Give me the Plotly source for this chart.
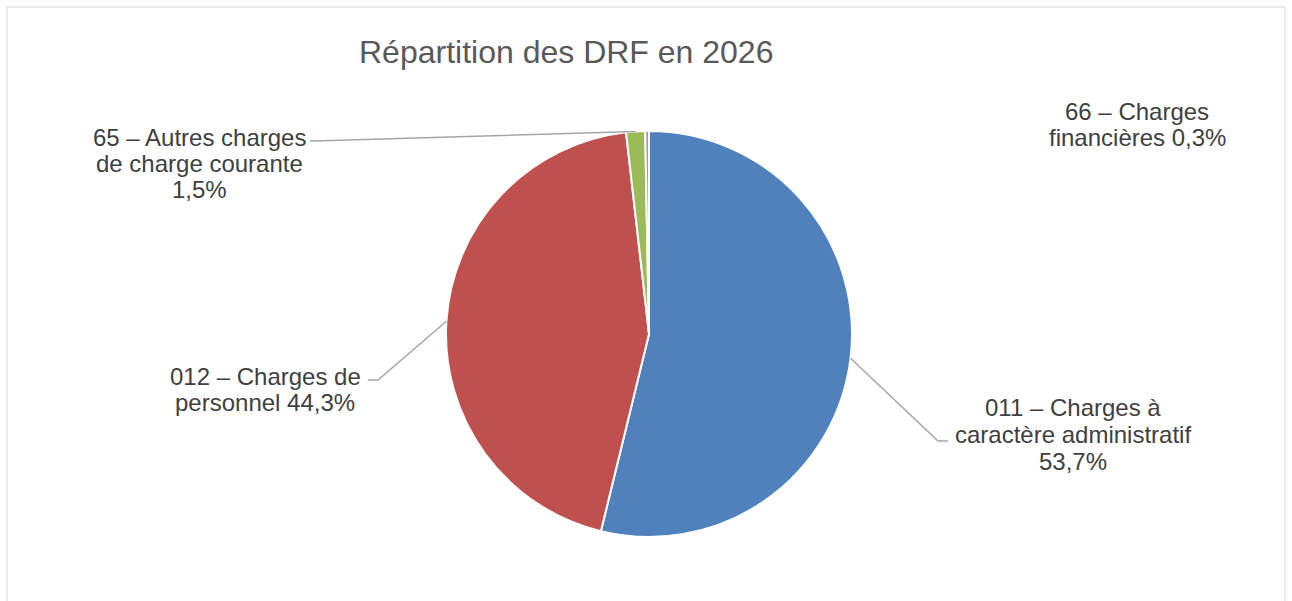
import math
import plotly.graph_objects as go

# Data
categories = ["011 – Charges à caractère administratif", "012 – Charges de personnel",
              "65 – Autres charges de charge courante", "66 – Charges financières"]
values = [53.7, 44.3, 1.5, 0.3]
label_lines = [["011 – Charges à", "caractère administratif", "53,7%"],
               ["012 – Charges de", "personnel 44,3%"],
               ["65 – Autres charges", "de charge courante", "1,5%"],
               ["66 – Charges", "financières 0,3%"]]
colors = ["#4F81BD", "#C0504D", "#9BBB59", "#A593C4"]
title = "Répartition des DRF en 2026"

W, H = 1292, 601
cx, cy, R = 649, 334, 203  # pie centre/radius in pixels
LINE_H = 26.5


def px2paper(x, y):
    return x / W, 1 - y / H


# label positions (centre x, first-line y), with elbow points for leader lines
label_pos = [(1073, 408), (265, 376), (199, 137), (1137, 111)]
elbows = [((938, 441), (948, 441)), ((378, 380), (368, 380)), ((314, 141), (310, 141)), None]

fig = go.Figure()
fig.add_trace(go.Pie(
    labels=categories, values=values, sort=False, direction="clockwise", rotation=0,
    marker=dict(colors=colors, line=dict(color="white", width=2)),
    textinfo="none", hoverinfo="label+percent", showlegend=False,
    domain=dict(x=[(cx - R) / W, (cx + R) / W], y=[1 - (cy + R) / H, 1 - (cy - R) / H]),
))

shapes = []
annotations = []
total = sum(values)
cum = 0
font = dict(family="Liberation Sans, Arial", size=24, color="#404040")
for i, v in enumerate(values):
    mid = (cum + v / 2) / total * 2 * math.pi
    cum += v
    sx = cx + R * math.sin(mid)
    sy = cy - R * math.cos(mid)
    if elbows[i] is not None:
        (ex, ey), (hx, hy) = elbows[i]
        pts = [(sx, sy), (ex, ey), (hx, hy)]
        path = "M " + " L ".join(f"{px2paper(x, y)[0]},{px2paper(x, y)[1]}" for x, y in pts)
        shapes.append(dict(type="path", xref="paper", yref="paper", path=path,
                           line=dict(color="#A6A6A6", width=1.5)))
    bx, by = label_pos[i]
    for j, line in enumerate(label_lines[i]):
        lx, ly = px2paper(bx, by + j * LINE_H)
        annotations.append(dict(x=lx, y=ly, xref="paper", yref="paper", text=line,
                                showarrow=False, xanchor="center", yanchor="middle",
                                font=font))

tx, ty = px2paper(566, 52)
annotations.append(dict(x=tx, y=ty, xref="paper", yref="paper", text=title, showarrow=False,
                        xanchor="center", yanchor="middle",
                        font=dict(family="Liberation Sans, Arial", size=32, color="#595959")))

# outer chart border
x0, y0 = px2paper(7, 7)
x1, y1 = px2paper(1285, 620)
shapes.append(dict(type="rect", xref="paper", yref="paper", x0=x0, y0=y1, x1=x1, y1=y0,
                   line=dict(color="#D9D9D9", width=1), layer="below"))

fig.update_layout(width=W, height=H, margin=dict(l=0, r=0, t=0, b=0),
                  paper_bgcolor="white", plot_bgcolor="white",
                  shapes=shapes, annotations=annotations)
fig.write_html("out.html", config={"displayModeBar": False},
               post_script="document.body.style.margin='0';")
